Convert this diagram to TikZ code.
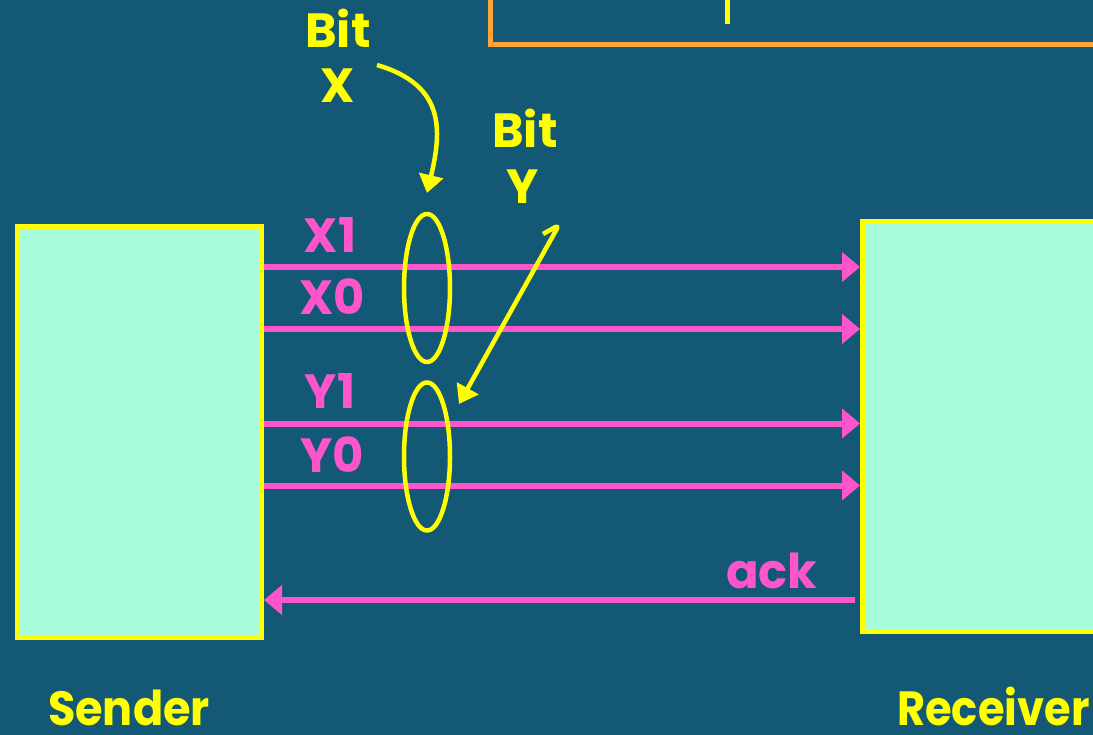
\documentclass[tikz,border=0pt]{standalone}
\usepackage{fontspec}
\setmainfont{Poppins}[BoldFont={Poppins Bold}]
\usetikzlibrary{arrows.meta,shapes.geometric}
\definecolor{bg}{HTML}{135975}
\definecolor{boxfill}{HTML}{A6FCD8}
\definecolor{sig}{HTML}{FF55CC}
\definecolor{yel}{HTML}{FFFF00}
\definecolor{org}{HTML}{FFA33A}
\tikzset{
  unit/.style={draw=yel, fill=boxfill, line width=5pt, inner sep=0pt},
  wire/.style={draw=sig, line width=6pt, -{Triangle[length=18pt,width=29pt]}},
  lbl/.style={text=sig, font=\fontsize{48}{48}\selectfont\bfseries, anchor=base, inner sep=0pt},
  ylbl/.style={text=yel, font=\fontsize{48}{48}\selectfont\bfseries, anchor=base, inner sep=0pt},
  ring/.style={ellipse, draw=yel, line width=4.5pt, inner sep=0pt, minimum width=46pt, minimum height=148pt},
  pointer/.style={draw=yel, line width=4.5pt, -{Triangle[length=18pt,width=24pt]}}
}
\begin{document}
\begin{tikzpicture}[x=1pt,y=-1pt]
\fill[bg] (0,0) rectangle (1093,735);
\useasboundingbox (0,0) rectangle (1093,735);
\clip (0,0) rectangle (1093,735);
% top orange frame and tick
\draw[org, line width=5pt] (490,-20) -- (490,45) -- (1120,45);
\draw[yel, line width=5pt] (727,-5) -- (727,24);
% boxes
\node[unit, minimum width=244pt, minimum height=411pt] (sender) at (139.5,432) {};
\node[unit, minimum width=258pt, minimum height=410pt] (receiver) at (991.5,426.5) {};
% wire levels
\coordinate (x1) at (0,267);
\coordinate (x0) at (0,329);
\coordinate (y1) at (0,423.5);
\coordinate (y0) at (0,485.5);
\coordinate (ak) at (0,600);
\draw[wire] (sender.east |- x1) -- (receiver.west |- x1);
\draw[wire] (sender.east |- x0) -- (receiver.west |- x0);
\draw[wire] (sender.east |- y1) -- (receiver.west |- y1);
\draw[wire] (sender.east |- y0) -- (receiver.west |- y0);
\coordinate (ackstart) at (855,600);
\draw[wire] (ackstart) -- (sender.east |- ak);
% labels
\node[lbl] (lx1) at (330,253) {X1};
\node[lbl] (lx0) at (332,315) {X0};
\node[lbl] (ly1) at (330,409) {Y1};
\node[lbl] (ly0) at (332,472) {Y0};
\node[lbl] (lack) at (772,588) {ack};
% ellipses
\node[ring] (ex) at (427,288) {};
\node[ring] (ey) at (427,456.5) {};
% bit labels
\node[ylbl] (bitx) at (338,48) {Bit};
\node[ylbl] (bx) at (338,103) {X};
\node[ylbl] (bity) at (525,148) {Bit};
\node[ylbl] (by) at (523,204) {Y};
% pointers
\coordinate (px) at (377,65);
\coordinate (py) at (543,234);
\draw[pointer] (px) .. controls (445,85) and (442,130) .. (ex.north |- 0,193);
\draw[pointer, rounded corners=5pt] (py) -- (559,225) -- (459,404);
% bottom titles
\node[ylbl] (snd) at (129,725) {\scalebox{0.93}[1]{Sender}};
\node[ylbl, anchor=base west] (rcv) at (897,725) {\scalebox{0.9}[1]{Receiver}};
\end{tikzpicture}
\end{document}
